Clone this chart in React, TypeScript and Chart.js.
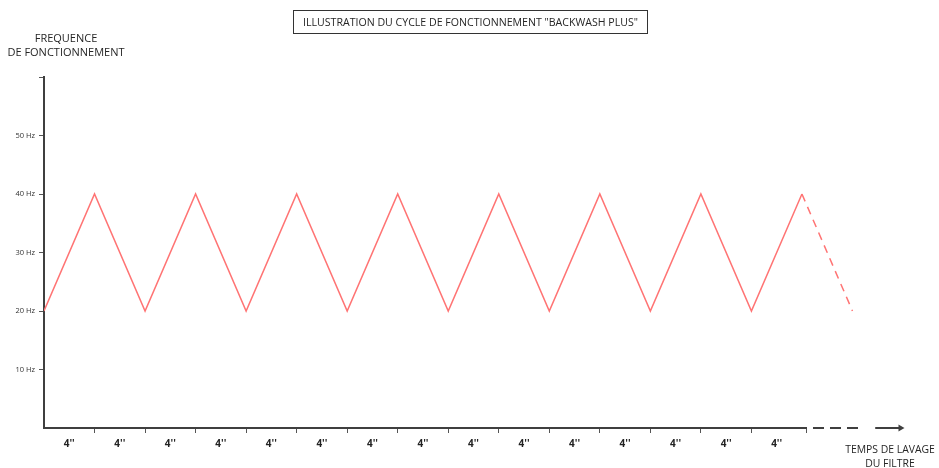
import React, { useEffect, useRef } from "react";
import { Chart, registerables } from "chart.js";

Chart.register(...registerables);

// ---- data ----
const TITLE = 'ILLUSTRATION DU CYCLE DE FONCTIONNEMENT "BACKWASH PLUS"';
const Y_TITLE = ["FREQUENCE", "DE FONCTIONNEMENT"];
const X_TITLE = ["TEMPS DE LAVAGE", "DU FILTRE"];

const cycleTime = [0, 1, 2, 3, 4, 5, 6, 7, 8, 9, 10, 11, 12, 13, 14, 15];
const cycleHz = [20, 40, 20, 40, 20, 40, 20, 40, 20, 40, 20, 40, 20, 40, 20, 40];
const washTime = [15, 16];
const washHz = [40, 20];

const yTickValues = [10, 20, 30, 40, 50, 60];
const yTickLabels = ["10 Hz", "20 Hz", "30 Hz", "40 Hz", "50 Hz", ""];

const intervalPos = [0.5, 1.5, 2.5, 3.5, 4.5, 5.5, 6.5, 7.5, 8.5, 9.5, 10.5, 11.5, 12.5, 13.5, 14.5];
const intervalLabels = ["4''", "4''", "4''", "4''", "4''", "4''", "4''", "4''", "4''", "4''", "4''", "4''", "4''", "4''", "4''"];
const xTickMarks = [1, 2, 3, 4, 5, 6, 7, 8, 9, 10, 11, 12, 13, 14, 15.1];

const axisSolidTime = [0, 15.1];
const axisDashTime = [15.1, 16.15];
const axisArrowTime = [16.45, 16.95];
const axisHz = [0, 0];

const FONT = "'Open Sans', 'DejaVu Sans', sans-serif";
const AXIS_COLOR = "#3f3f3f";
const LINE_COLOR = "#ff7474";

const pts = (xs: number[], ys: number[]) => xs.map((x, i) => ({ x, y: ys[i] }));

export default function App() {
  const ref = useRef<HTMLCanvasElement | null>(null);

  useEffect(() => {
    if (!ref.current) return;
    const chart = new Chart(ref.current, {
      type: "line",
      data: {
        datasets: [
          {
            data: pts(cycleTime, cycleHz),
            borderColor: LINE_COLOR,
            borderWidth: 1.5,
            pointRadius: 0,
            tension: 0,
          },
          {
            data: pts(washTime, washHz),
            borderColor: LINE_COLOR,
            borderWidth: 1.5,
            borderDash: [8, 6],
            pointRadius: 0,
            tension: 0,
          },
          {
            data: pts(axisSolidTime, axisHz),
            borderColor: AXIS_COLOR,
            borderWidth: 2,
            pointRadius: 0,
            clip: false,
          },
          {
            data: pts(axisDashTime, axisHz),
            borderColor: AXIS_COLOR,
            borderWidth: 2,
            borderDash: [11, 6],
            borderDashOffset: -6,
            pointRadius: 0,
            clip: false,
          },
          {
            data: pts(axisArrowTime, axisHz),
            borderColor: AXIS_COLOR,
            borderWidth: 2,
            pointRadius: [0, 4],
            pointStyle: "triangle",
            rotation: 90,
            pointBackgroundColor: AXIS_COLOR,
            pointBorderColor: AXIS_COLOR,
            pointBorderWidth: 0,
            clip: false,
          } as any,
        ],
      },
      options: {
        animation: false,
        responsive: false,
        events: [],
        layout: { padding: { top: 77, right: 36, left: 0, bottom: 0 } },
        plugins: { legend: { display: false }, tooltip: { enabled: false }, title: { display: false } },
        scales: {
          x: {
            type: "linear",
            position: "bottom",
            min: 0,
            max: 17,
            weight: 1,
            afterBuildTicks: (s: any) => {
              s.ticks = intervalPos.map((v) => ({ value: v }));
            },
            afterFit: (s: any) => {
              s.height = 40;
            },
            grid: { display: false, drawTicks: false, tickLength: 0 },
            border: { display: false },
            ticks: {
              autoSkip: false,
              maxRotation: 0,
              padding: 10,
              color: "#222",
              font: { family: FONT, size: 10, weight: "bold" },
              callback: (_v: any, i: number) => intervalLabels[i],
            },
          },
          xt: {
            type: "linear",
            position: "bottom",
            min: 0,
            max: 17,
            weight: 0,
            afterBuildTicks: (s: any) => {
              s.ticks = xTickMarks.map((v) => ({ value: v }));
            },
            afterFit: (s: any) => {
              s.height = 0;
            },
            grid: { drawOnChartArea: false, drawTicks: true, tickLength: 5, color: "#555", lineWidth: 1 },
            border: { display: false },
            ticks: { display: false },
          },
          y: {
            type: "linear",
            min: 0,
            max: 60,
            afterBuildTicks: (s: any) => {
              s.ticks = yTickValues.map((v) => ({ value: v }));
            },
            afterFit: (s: any) => {
              s.width = 44;
            },
            grid: { drawOnChartArea: false, drawTicks: true, tickLength: 5, color: "#555", lineWidth: 1 },
            border: { display: true, color: AXIS_COLOR, width: 2 },
            ticks: {
              padding: 4,
              color: "#333",
              font: { family: FONT, size: 7.5 },
              callback: (_v: any, i: number) => yTickLabels[i],
            },
          },
        } as any,
      },
    });
    return () => chart.destroy();
  }, []);

  const textBase: React.CSSProperties = {
    position: "absolute",
    fontFamily: FONT,
    color: "#262626",
    whiteSpace: "nowrap",
  };

  return (
    <div style={{ position: "fixed", left: 0, top: 0, width: 939, height: 468, background: "#fff" }}>
      <canvas ref={ref} width={939} height={468} style={{ position: "absolute", left: 0, top: 0, width: 939, height: 468 }} />
      <div
        style={{
          ...textBase,
          left: 293,
          top: 10,
          width: 353,
          height: 22,
          border: "1.5px solid #333",
          fontSize: 10.6,
          lineHeight: "22px",
          textAlign: "center",
        }}
      >
        {TITLE}
      </div>
      <div style={{ ...textBase, left: 5, width: 122, top: 31, fontSize: 11, lineHeight: "14px", textAlign: "center" }}>
        {Y_TITLE.map((t) => (
          <div key={t}>{t}</div>
        ))}
      </div>
      <div style={{ ...textBase, left: 840, width: 100, top: 442, fontSize: 10.4, lineHeight: "14px", textAlign: "center" }}>
        {X_TITLE.map((t) => (
          <div key={t}>{t}</div>
        ))}
      </div>
    </div>
  );
}
